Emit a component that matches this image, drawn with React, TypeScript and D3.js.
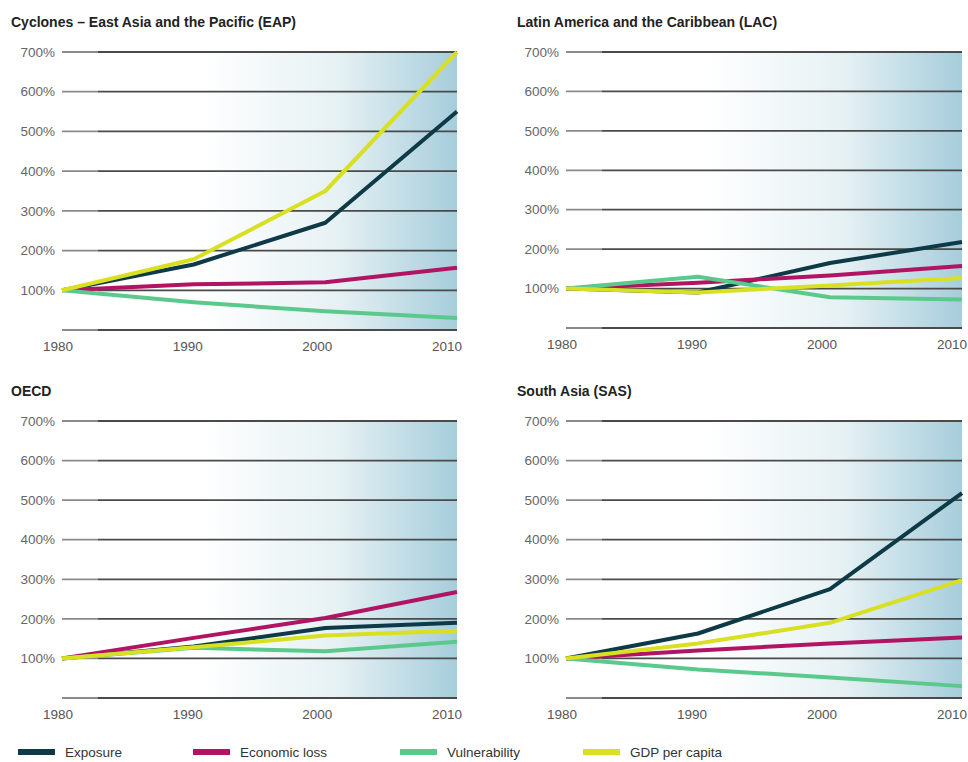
import { useRef, useEffect } from "react"
import * as d3 from "d3"

const years = [1980, 1990, 2000, 2010]
const yTicks = [100, 200, 300, 400, 500, 600, 700]
const seriesNames = ["Exposure", "Economic loss", "Vulnerability", "GDP per capita"]
const seriesColors = ["#0e3a47", "#b01462", "#5cc98c", "#d9e021"]

// values in % of 1980 level, order: Exposure, Economic loss, Vulnerability, GDP per capita
const eapExposure = [100, 165, 270, 550]
const eapLoss = [100, 115, 120, 157]
const eapVuln = [100, 70, 47, 30]
const eapGdp = [100, 178, 350, 700]

const lacExposure = [100, 90, 165, 218]
const lacLoss = [100, 115, 133, 157]
const lacVuln = [100, 130, 78, 72]
const lacGdp = [100, 90, 108, 127]

const oecdExposure = [100, 130, 177, 190]
const oecdLoss = [100, 152, 202, 268]
const oecdVuln = [100, 127, 118, 142]
const oecdGdp = [100, 128, 158, 170]

const sasExposure = [100, 163, 275, 518]
const sasLoss = [100, 120, 138, 153]
const sasVuln = [100, 72, 52, 30]
const sasGdp = [100, 138, 190, 298]

const panelTitles = [
  "Cyclones – East Asia and the Pacific (EAP)",
  "Latin America and the Caribbean (LAC)",
  "OECD",
  "South Asia (SAS)",
]

export default function App() {
  const svgRef = useRef<SVGSVGElement>(null)

  function drawChart() {
    const width = 968
    const height = 762
    const fontFamily = "'Liberation Sans', Arial, Helvetica, sans-serif"

    const svg = d3.select(svgRef.current).attr("width", width).attr("height", height)
    svg.selectAll("*").remove()

    const panels = [
      { title: panelTitles[0], x0: 62, x1: 457, y0: 52, y1: 330, tx: 11, ty: 27, data: [eapExposure, eapLoss, eapVuln, eapGdp] },
      { title: panelTitles[1], x0: 566, x1: 962, y0: 52, y1: 328, tx: 517, ty: 27, data: [lacExposure, lacLoss, lacVuln, lacGdp] },
      { title: panelTitles[2], x0: 62, x1: 457, y0: 421, y1: 698, tx: 11, ty: 396, data: [oecdExposure, oecdLoss, oecdVuln, oecdGdp] },
      { title: panelTitles[3], x0: 566, x1: 962, y0: 421, y1: 698, tx: 517, ty: 396, data: [sasExposure, sasLoss, sasVuln, sasGdp] },
    ]

    // background gradient
    const defs = svg.append("defs")
    const grad = defs.append("linearGradient").attr("id", "bg").attr("x1", "0").attr("x2", "1").attr("y1", "0").attr("y2", "0")
    grad.append("stop").attr("offset", "0%").attr("stop-color", "#ffffff")
    grad.append("stop").attr("offset", "35%").attr("stop-color", "#ffffff")
    grad.append("stop").attr("offset", "70%").attr("stop-color", "#e6f1f4")
    grad.append("stop").attr("offset", "100%").attr("stop-color", "#a6cddb")

    panels.forEach((p) => {
      const x = d3.scaleLinear().domain([1980, 2010]).range([p.x0, p.x1])
      const y = d3.scaleLinear().domain([0, 700]).range([p.y1, p.y0])
      const labelX = d3.scaleLinear().domain([1980, 2010]).range([p.x0 - 4, p.x1 - 10])
      const g = svg.append("g")

      g.append("rect")
        .attr("x", p.x0)
        .attr("y", y(700))
        .attr("width", p.x1 - p.x0)
        .attr("height", y(0) - y(700))
        .attr("fill", "url(#bg)")

      g.append("text")
        .text(p.title)
        .attr("x", p.tx)
        .attr("y", p.ty)
        .style("font-family", fontFamily)
        .style("font-size", "14px")
        .style("font-weight", "bold")
        .attr("fill", "#222")

      // grid: short lighter lead-in, then the dark rule
      g.selectAll("line.lead")
        .data([0, ...yTicks])
        .enter()
        .append("line")
        .attr("x1", p.x0)
        .attr("x2", p.x0 + 36)
        .attr("y1", (d) => y(d))
        .attr("y2", (d) => y(d))
        .attr("stroke", "#8a8a8a")
        .attr("stroke-width", 1.8)
      g.selectAll("line.grid")
        .data([0, ...yTicks])
        .enter()
        .append("line")
        .attr("x1", p.x0 + 36)
        .attr("x2", p.x1)
        .attr("y1", (d) => y(d))
        .attr("y2", (d) => y(d))
        .attr("stroke", "#4a4a4a")
        .attr("stroke-width", 1.8)

      g.selectAll("text.ytick")
        .data(yTicks)
        .enter()
        .append("text")
        .text((d) => d + "%")
        .attr("x", p.x0 - 7)
        .attr("y", (d) => y(d))
        .attr("dy", "0.35em")
        .attr("text-anchor", "end")
        .attr("fill", "#666")
        .style("font-family", fontFamily)
        .style("font-size", "13.5px")

      g.selectAll("text.xtick")
        .data(years)
        .enter()
        .append("text")
        .text((d) => d)
        .attr("x", (d) => labelX(d))
        .attr("y", y(0) + 21)
        .attr("text-anchor", "middle")
        .attr("fill", "#555")
        .style("font-family", fontFamily)
        .style("font-size", "13.5px")

      const line = d3
        .line<number>()
        .x((d, i) => x(years[i]))
        .y((d) => y(d))

      g.selectAll("path.series")
        .data(p.data)
        .enter()
        .append("path")
        .attr("d", (d) => line(d))
        .attr("fill", "none")
        .attr("stroke", (d, i) => seriesColors[i])
        .attr("stroke-width", 4)
        .attr("stroke-linejoin", "round")
    })

    // legend
    const legendX = [18, 193, 400, 583]
    const legend = svg.append("g")
    const items = legend
      .selectAll("g")
      .data(seriesNames)
      .enter()
      .append("g")
      .attr("transform", (d, i) => `translate(${legendX[i]}, 752)`)
    items
      .append("rect")
      .attr("x", 0)
      .attr("y", -3)
      .attr("width", 37)
      .attr("height", 6)
      .attr("fill", (d, i) => seriesColors[i])
    items
      .append("text")
      .text((d) => d)
      .attr("x", 47)
      .attr("y", 5)
      .attr("fill", "#333")
      .style("font-family", fontFamily)
      .style("font-size", "13.5px")
  }

  useEffect(() => {
    drawChart()
  }, [svgRef])

  return (
    <div style={{ position: "absolute", left: 0, top: 0 }}>
      <svg ref={svgRef}></svg>
    </div>
  )
}
